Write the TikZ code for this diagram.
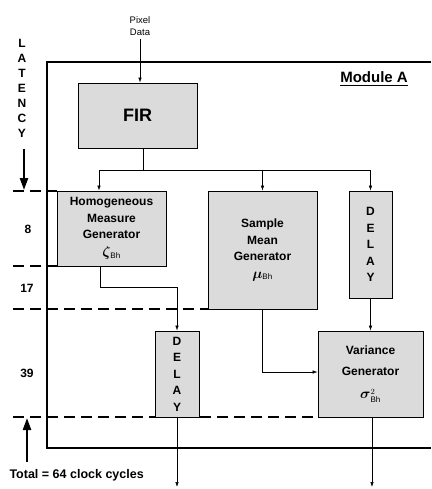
\documentclass[tikz,border=0pt]{standalone}
\usepackage{fontspec}
\setmainfont{Liberation Sans}
\usetikzlibrary{arrows.meta, positioning}

\newcommand{\gsym}[1]{{\fontsize{15}{16}\selectfont$\boldsymbol{#1}$}}

\usepackage{amsmath}

\begin{document}
\begin{tikzpicture}[
  x=1pt, y=-1pt,
  box/.style={rectangle, draw, line width=0.8pt, fill=gray!28, align=center, inner sep=1pt, font=\bfseries\fontsize{12}{16.5}\selectfont},
  delaybox/.style={box, font=\bfseries\fontsize{12}{16.5}\selectfont},
  arrow/.style={-{Latex[length=5pt,width=3.5pt]}, line width=0.6pt},
  latarrow/.style={-{Triangle[length=12pt,width=8pt]}, line width=2.2pt},
  cycleline/.style={dash pattern=on 11pt off 6pt, line width=1.7pt},
  lbl/.style={font=\bfseries\fontsize{12}{15}\selectfont, align=center}
]
\useasboundingbox (0,0) rectangle (431,489);
\fill[white] (0,0) rectangle (431,489);

% Module frame
\draw[line width=1.6pt] (431,62) -- (47,62) -- (47,448) -- (431,448);
\node (title) at (374,79) {\bfseries\fontsize{15}{18}\selectfont\underline{Module A}};

% Latency scale
\draw[cycleline] (13,191) -- (57,191);
\draw[cycleline] (13,266) -- (57,266);
\draw[cycleline] (13,309) -- (208,309);
\draw[cycleline] (13,417) -- (318,417);

% Nodes
\node (pixel) at (140,26) [align=center, font=\fontsize{9.5}{11.5}\selectfont] {Pixel\\Data};
\node (fir) [box, minimum width=119pt, minimum height=65pt, font=\bfseries\fontsize{18}{20}\selectfont] at (137.5,115.5) {FIR};
\node (homog) [box, minimum width=109pt, minimum height=75pt] at (111.5,228.5) {Homogeneous\\Measure\\Generator\\[1pt]\gsym{\zeta}$_{\mathrm{Bh}}$};
\node (mean) [box, minimum width=109pt, minimum height=118pt] at (262.5,250) {Sample\\Mean\\Generator\\[1pt]\gsym{\mu}$_{\mathrm{Bh}}$};
\node (delayA) [delaybox, minimum width=43pt, minimum height=107pt] at (370.5,244.5) {D\\E\\L\\A\\Y};
\node (delayB) [delaybox, minimum width=44pt, minimum height=86pt] at (177,374) {D\\E\\L\\A\\Y};
\node (variance) [box, minimum width=105pt, minimum height=86pt] at (370.5,374) {Variance\\[4pt]Generator\\[7pt]\gsym{\sigma}$^{2}_{\mathrm{Bh}}$};

\node (latency) [lbl] at (22,88) {L\\A\\T\\E\\N\\C\\Y};
\node (c8) [lbl] at (28,229) {8};
\node (c17) [lbl] at (27,288) {17};
\node (c39) [lbl] at (27,373) {39};
\node (total) [font=\bfseries\fontsize{12.5}{15}\selectfont, anchor=west] at (6,475) {Total = 64 clock cycles};

\coordinate (fork) at (143,170);
\coordinate (outB) at (177,487);
\coordinate (outC) at (372,487);

% Arrows
\draw [arrow] (pixel) -- (pixel |- fir.north);
\draw (fork |- fir.south) -- (fork);
\draw [arrow] (fork) -| ([xshift=-12.5pt]homog.north);
\draw [arrow] (fork) -| (mean.north);
\draw [arrow] (fork) -| (delayA.north);
\draw [arrow] ([xshift=-11.5pt]homog.south) -- ++(0,21) -| (delayB.north);
\draw [arrow] (mean.south) |- ([yshift=2pt]variance.west);
\draw [arrow] (delayA.south) -- (delayA.south |- variance.north);
\draw [arrow] (delayB.south) -- (outB);
\draw [arrow] ([xshift=1.5pt]variance.south) -- (outC);
\draw [latarrow] (latency.south) ++(2,8) -- (24,190);
\draw [latarrow] (27,462) -- (27,418);

\end{tikzpicture}
\end{document}
